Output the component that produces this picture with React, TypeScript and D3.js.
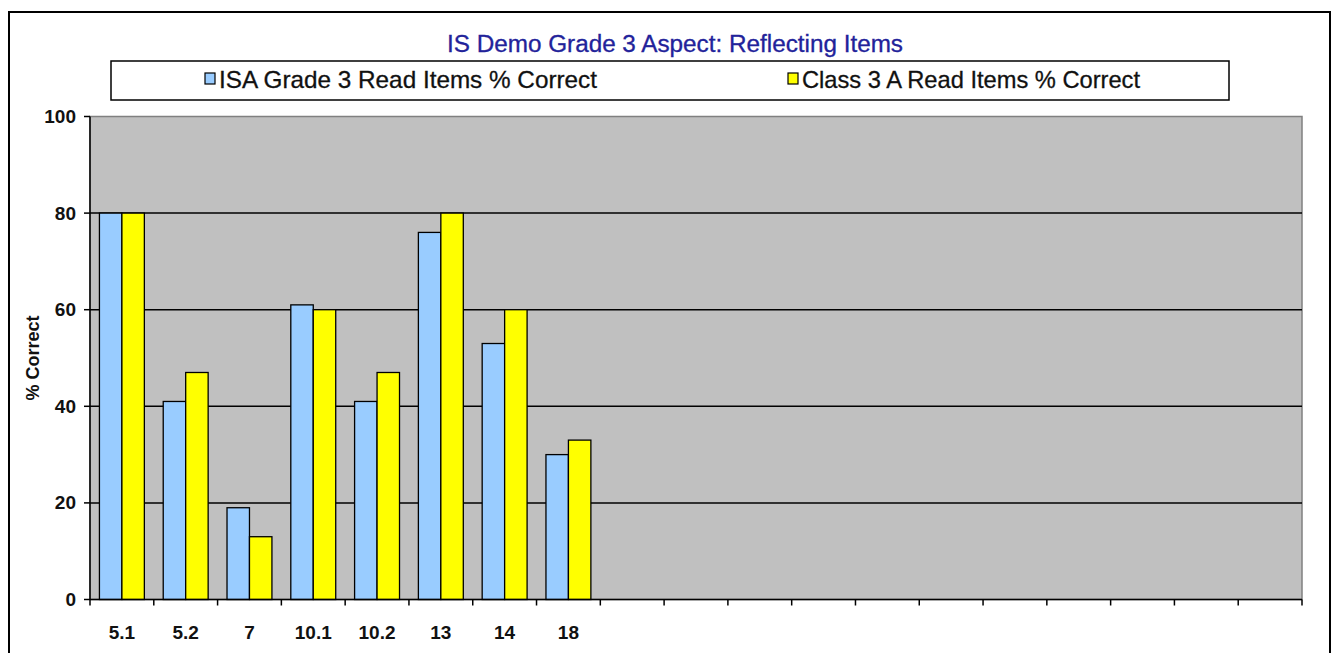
import React from "react";
import * as d3 from "d3";

const categories = ["5.1", "5.2", "7", "10.1", "10.2", "13", "14", "18", "", "", "", "", "", "", "", "", "", "", ""];
const isaValues = [80, 41, 19, 61, 41, 76, 53, 30];
const classValues = [80, 47, 13, 60, 47, 80, 60, 33];
const seriesNames = ["ISA Grade 3 Read Items % Correct", "Class 3 A Read Items % Correct"];
const seriesColors = ["#99CCFF", "#FFFF00"];
const yTicks = [0, 20, 40, 60, 80, 100];
const title = "IS Demo Grade 3 Aspect: Reflecting Items";
const yTitle = "% Correct";

const W = 1336, H = 653;
const plot = { left: 90, right: 1302, top: 116.5, bottom: 599.5 };
const NARROW = "'Liberation Sans Narrow', 'Arial Narrow', 'Liberation Sans', Arial, sans-serif";

export default function App() {
  const x = d3.scaleBand<number>().domain(categories.map((_, i) => i)).range([plot.left, plot.right]).padding(0);
  const inner = d3.scaleBand<number>().domain([0, 1]).range([0, x.bandwidth()]).paddingInner(0).paddingOuter(0.42);
  const y = d3.scaleLinear().domain([0, 100]).range([plot.bottom, plot.top]);
  const series = [isaValues, classValues];
  const boundaries = d3.range(categories.length + 1).map(i => plot.left + i * x.step());

  return (
    <svg width={W} height={H} style={{ position: "absolute", left: 0, top: 0, background: "#fff" }}>
      {/* outer frame */}
      <rect x={9} y={12} width={1321} height={700} fill="#fff" stroke="#000" strokeWidth={2} />
      {/* title */}
      <text x={675} y={52} textAnchor="middle" fontFamily={NARROW} fontSize={23} fill="#22229A"
        stroke="#22229A" strokeWidth={0.3} textLength={456} lengthAdjust="spacingAndGlyphs">{title}</text>
      {/* legend */}
      <rect x={111} y={61} width={1118} height={39} fill="#fff" stroke="#000" strokeWidth={1.5} />
      {[{ sx: 205, tx: 219, tl: 378 }, { sx: 788, tx: 802, tl: 338 }].map((l, i) => (
        <g key={i}>
          <rect x={l.sx} y={73} width={10} height={11} fill={seriesColors[i]} stroke="#000" strokeWidth={1.2} />
          <text x={l.tx} y={88} fontFamily={NARROW} fontSize={24} fill="#111" stroke="#111" strokeWidth={0.3}
            textLength={l.tl} lengthAdjust="spacingAndGlyphs">{seriesNames[i]}</text>
        </g>
      ))}
      {/* plot area */}
      <rect x={plot.left} y={plot.top} width={plot.right - plot.left} height={plot.bottom - plot.top}
        fill="#C0C0C0" stroke="#808080" strokeWidth={1.5} />
      {/* gridlines */}
      {yTicks.filter(t => t > 0 && t < 100).map(t => (
        <line key={t} x1={plot.left} x2={plot.right} y1={y(t)} y2={y(t)} stroke="#000" strokeWidth={1.5} />
      ))}
      {/* bars */}
      {series.map((vals, si) => vals.map((v, ci) => (
        <rect key={`${si}-${ci}`} x={(x(ci) as number) + (inner(si) as number)} y={y(v)}
          width={inner.bandwidth()} height={y(0) - y(v)} fill={seriesColors[si]} stroke="#000" strokeWidth={1.3} />
      )))}
      {/* y axis */}
      <line x1={plot.left} x2={plot.left} y1={plot.top} y2={plot.bottom} stroke="#000" strokeWidth={1.5} />
      {yTicks.map(t => (
        <g key={t}>
          <line x1={plot.left - 6} x2={plot.left} y1={y(t)} y2={y(t)} stroke="#000" strokeWidth={1.5} />
          <text x={76} y={y(t) + 6.5} textAnchor="end" fontFamily={NARROW} fontWeight="bold" fontSize={19} fill="#111">{t}</text>
        </g>
      ))}
      {/* x axis */}
      <line x1={plot.left} x2={plot.right} y1={plot.bottom} y2={plot.bottom} stroke="#000" strokeWidth={1.5} />
      {boundaries.map((bx, i) => (
        <line key={i} x1={bx} x2={bx} y1={plot.bottom} y2={plot.bottom + 6} stroke="#000" strokeWidth={1.5} />
      ))}
      {categories.map((c, i) => c ? (
        <text key={i} x={(x(i) as number) + x.bandwidth() / 2} y={639} textAnchor="middle"
          fontFamily={NARROW} fontWeight="bold" fontSize={19} fill="#111">{c}</text>
      ) : null)}
      {/* y title */}
      <text transform={`translate(39,358) rotate(-90)`} textAnchor="middle"
        fontFamily={NARROW} fontWeight="bold" fontSize={18} fill="#111">{yTitle}</text>
    </svg>
  );
}
